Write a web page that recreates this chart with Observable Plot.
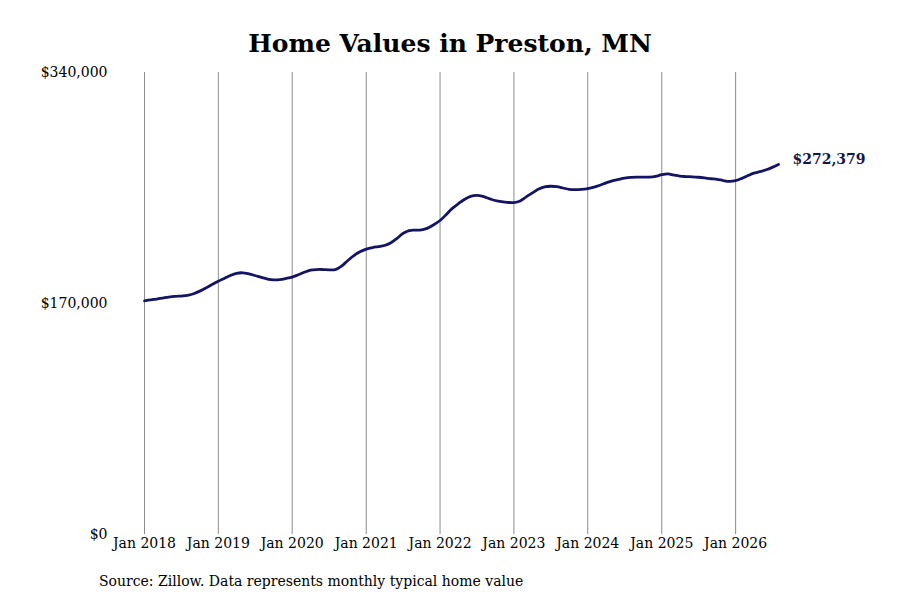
<!DOCTYPE html>
<html>
<head>
<meta charset="utf-8">
<script src="https://cdn.jsdelivr.net/npm/d3@7"></script>
<script src="https://cdn.jsdelivr.net/npm/@observablehq/plot@0.6"></script>
<style>
  html, body { margin: 0; padding: 0; background: #fff; }
  body { width: 900px; height: 600px; position: relative; font-family: "DejaVu Serif", serif; overflow: hidden; }
  #title { position: absolute; top: 30px; left: 0; width: 900px; text-align: center; font-size: 25px; font-weight: bold; line-height: 28px; color: #000; }
  #chart { position: absolute; top: 60px; left: 0; }
  #caption { position: absolute; top: 572px; left: 99px; font-size: 14px; line-height: 18px; color: #000; }
</style>
</head>
<body>
<div id="title">Home Values in Preston, MN</div>
<div id="chart"></div>
<div id="caption">Source: Zillow. Data represents monthly typical home value</div>
<script>
// Monthly typical home value (USD), Jan 2018 .. Aug 2026
const startYear = 2018;
const values = [
  172000,172600,173300,174000,174700,175200,175500,175900,177200,179100,181500,184000,
  186400,188600,190600,192200,192600,191800,190600,189200,188000,187400,187600,188400,
  189400,191200,193000,194500,195000,195000,194800,194900,197500,201500,205300,208000,
  210000,211200,211900,212700,214500,217800,221500,223700,224000,224200,225500,228000,
  231100,235500,239800,243400,246500,248800,249500,248800,247200,245800,244900,244400,
  244300,245500,248300,251200,254000,255800,256300,256000,255000,254000,253800,254000,
  254600,255600,257000,258800,260300,261300,262200,262800,263000,263000,263000,263500,
  264800,265400,264500,263700,263400,263200,262900,262400,261800,261400,260500,259900,
  260400,262100,264000,265900,267000,268400,270200,272379
];
const yTicks = [0, 170000, 340000];
const xTickYears = [2018, 2019, 2020, 2021, 2022, 2023, 2024, 2025, 2026];

const data = values.map((v, i) => ({date: new Date(Date.UTC(startYear, i, 1)), value: v}));
const last = data[data.length - 1];

const chart = Plot.plot({
  width: 900,
  height: 500,
  marginTop: 12,
  marginBottom: 26,
  marginLeft: 144,
  marginRight: 122,
  style: {fontFamily: "DejaVu Serif, serif", fontSize: "14px", color: "#000", background: "transparent"},
  x: {type: "utc", domain: [data[0].date, last.date]},
  y: {domain: [0, 340000]},
  marks: [
    Plot.ruleX(xTickYears.map(y => new Date(Date.UTC(y, 0, 1))), {y1: 0, y2: 340000, stroke: "#8c8c8c", strokeWidth: 1, strokeOpacity: 1}),
    Plot.axisX({
      ticks: xTickYears.map(y => new Date(Date.UTC(y, 0, 1))),
      tickFormat: d => `Jan ${d.getUTCFullYear()}`,
      tickSize: 0, tickPadding: 4, label: null, fill: "#000"
    }),
    Plot.axisY({
      ticks: yTicks, tickFormat: d3.format("$,.0f"), tickSize: 0, tickPadding: 37, label: null, fill: "#000"
    }),
    Plot.line(data, {x: "date", y: "value", stroke: "#141464", strokeWidth: 2.8, curve: "catmull-rom"}),
    Plot.text([last], {x: "date", y: "value", text: d => d3.format("$,.0f")(d.value), dx: 14, dy: -5, textAnchor: "start", fontWeight: "bold", fill: "#16164e", fontSize: 14})
  ]
});
document.getElementById("chart").appendChild(chart);
</script>
</body>
</html>
